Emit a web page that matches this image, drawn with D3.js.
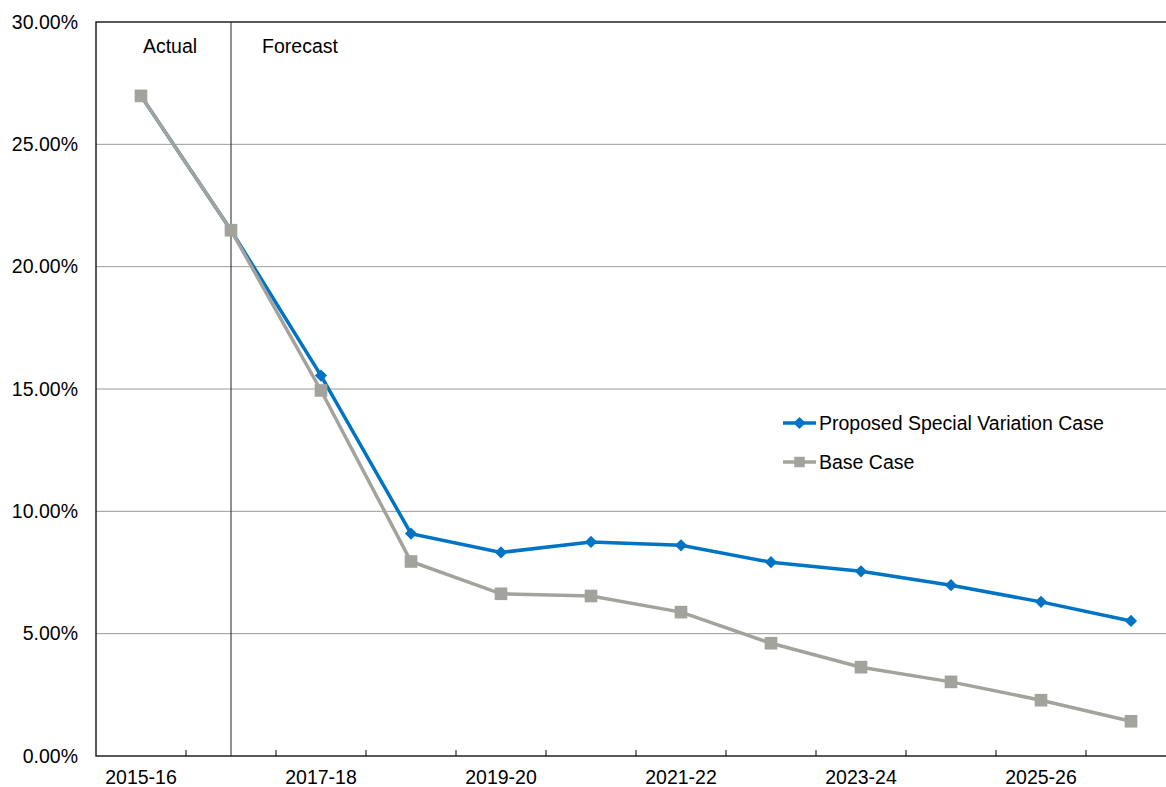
<!DOCTYPE html>
<html lang="en">
<head>
  <meta charset="UTF-8">
  <title>Operating result ratio</title>
  <script src="https://d3js.org/d3.v7.min.js"></script>
  <style>
    body { margin: 0; background: white; font-family: "Liberation Sans", Arial, sans-serif; }
    svg text { fill: #000; }
  </style>
</head>
<body>
  <div id="chart"></div>
  <script>
    const years = ["2015-16", "2016-17", "2017-18", "2018-19", "2019-20", "2020-21",
                   "2021-22", "2022-23", "2023-24", "2024-25", "2025-26", "2026-27"];
    const proposed = [26.98, 21.49, 15.55, 9.09, 8.32, 8.75, 8.61, 7.92, 7.55, 6.98, 6.30, 5.52];
    const baseCase = [26.98, 21.49, 14.94, 7.95, 6.63, 6.54, 5.88, 4.61, 3.63, 3.03, 2.28, 1.42];
    const yTicks = [0, 5, 10, 15, 20, 25, 30];
    const seriesNames = ["Proposed Special Variation Case", "Base Case"];

    const width = 1166, height = 787;
    const plotLeft = 96, plotTop = 22, plotRight = 1176, plotBottom = 756;
    const fontSize = 19.5;

    const svg = d3.select("#chart").append("svg")
      .attr("width", width)
      .attr("height", height);

    const x = d3.scaleBand().domain(years).range([plotLeft, plotRight]).padding(0);
    const cx = d => x(d) + x.bandwidth() / 2;
    const y = d3.scaleLinear().domain([0, 30]).range([plotBottom, plotTop]);

    // gridlines
    svg.append("g")
      .selectAll("line")
      .data(yTicks.filter(t => t > 0 && t < 30))
      .enter().append("line")
      .attr("x1", plotLeft).attr("x2", plotRight)
      .attr("y1", d => y(d)).attr("y2", d => y(d))
      .attr("stroke", "#9a9a9a")
      .attr("stroke-width", 1);

    // plot border
    svg.append("rect")
      .attr("x", plotLeft).attr("y", plotTop)
      .attr("width", plotRight - plotLeft).attr("height", plotBottom - plotTop)
      .attr("fill", "none")
      .attr("stroke", "#000")
      .attr("stroke-width", 1.3);

    // y axis labels
    svg.append("g")
      .selectAll("text")
      .data(yTicks)
      .enter().append("text")
      .attr("x", 78)
      .attr("y", d => y(d))
      .attr("dy", "0.35em")
      .attr("text-anchor", "end")
      .attr("font-size", fontSize)
      .text(d => d.toFixed(2) + "%");

    // x axis ticks at category boundaries, pointing inward
    svg.append("g")
      .selectAll("line")
      .data(years.slice(1))
      .enter().append("line")
      .attr("x1", d => x(d)).attr("x2", d => x(d))
      .attr("y1", plotBottom).attr("y2", plotBottom - 6)
      .attr("stroke", "#000");

    svg.append("g")
      .selectAll("text")
      .data(years.filter((d, i) => i % 2 === 0))
      .enter().append("text")
      .attr("x", d => cx(d))
      .attr("y", 784)
      .attr("text-anchor", "middle")
      .attr("font-size", fontSize)
      .text(d => d);

    // actual / forecast divider
    svg.append("line")
      .attr("x1", cx("2016-17")).attr("x2", cx("2016-17"))
      .attr("y1", plotTop).attr("y2", plotBottom)
      .attr("stroke", "#222")
      .attr("stroke-width", 1);

    svg.append("text")
      .attr("x", 170).attr("y", 53)
      .attr("text-anchor", "middle")
      .attr("font-size", fontSize)
      .text("Actual");
    svg.append("text")
      .attr("x", 300).attr("y", 53)
      .attr("text-anchor", "middle")
      .attr("font-size", fontSize)
      .text("Forecast");

    const line = d3.line().x((d, i) => cx(years[i])).y(d => y(d));

    const blue = "#0074c4", grey = "#a3a39e";
    const diamond = d3.symbol().type(d3.symbolDiamond2).size(95);
    const square = d3.symbol().type(d3.symbolSquare).size(160);

    // proposed series
    svg.append("path")
      .datum(proposed)
      .attr("d", line)
      .attr("fill", "none")
      .attr("stroke", blue)
      .attr("stroke-width", 3.5);
    svg.append("g")
      .selectAll("path")
      .data(proposed)
      .enter().append("path")
      .attr("d", diamond)
      .attr("transform", (d, i) => `translate(${cx(years[i])},${y(d)})`)
      .attr("fill", blue);

    // base series
    svg.append("path")
      .datum(baseCase)
      .attr("d", line)
      .attr("fill", "none")
      .attr("stroke", grey)
      .attr("stroke-width", 3.5);
    svg.append("g")
      .selectAll("path")
      .data(baseCase)
      .enter().append("path")
      .attr("d", square)
      .attr("transform", (d, i) => `translate(${cx(years[i])},${y(d)})`)
      .attr("fill", grey);

    // legend
    const legend = svg.append("g").attr("transform", "translate(783, 423)");
    const legendItems = [
      { name: seriesNames[0], color: blue, sym: diamond },
      { name: seriesNames[1], color: grey, sym: d3.symbol().type(d3.symbolSquare).size(110) }
    ];
    const item = legend.selectAll("g")
      .data(legendItems)
      .enter().append("g")
      .attr("transform", (d, i) => `translate(0, ${i * 39})`);
    item.append("line")
      .attr("x1", 0).attr("x2", 33)
      .attr("stroke", d => d.color)
      .attr("stroke-width", 3.5);
    item.append("path")
      .attr("d", d => d.sym())
      .attr("transform", "translate(16.5,0)")
      .attr("fill", d => d.color);
    item.append("text")
      .attr("x", 36)
      .attr("dy", "0.35em")
      .attr("font-size", fontSize)
      .text(d => d.name);
  </script>
</body>
</html>
